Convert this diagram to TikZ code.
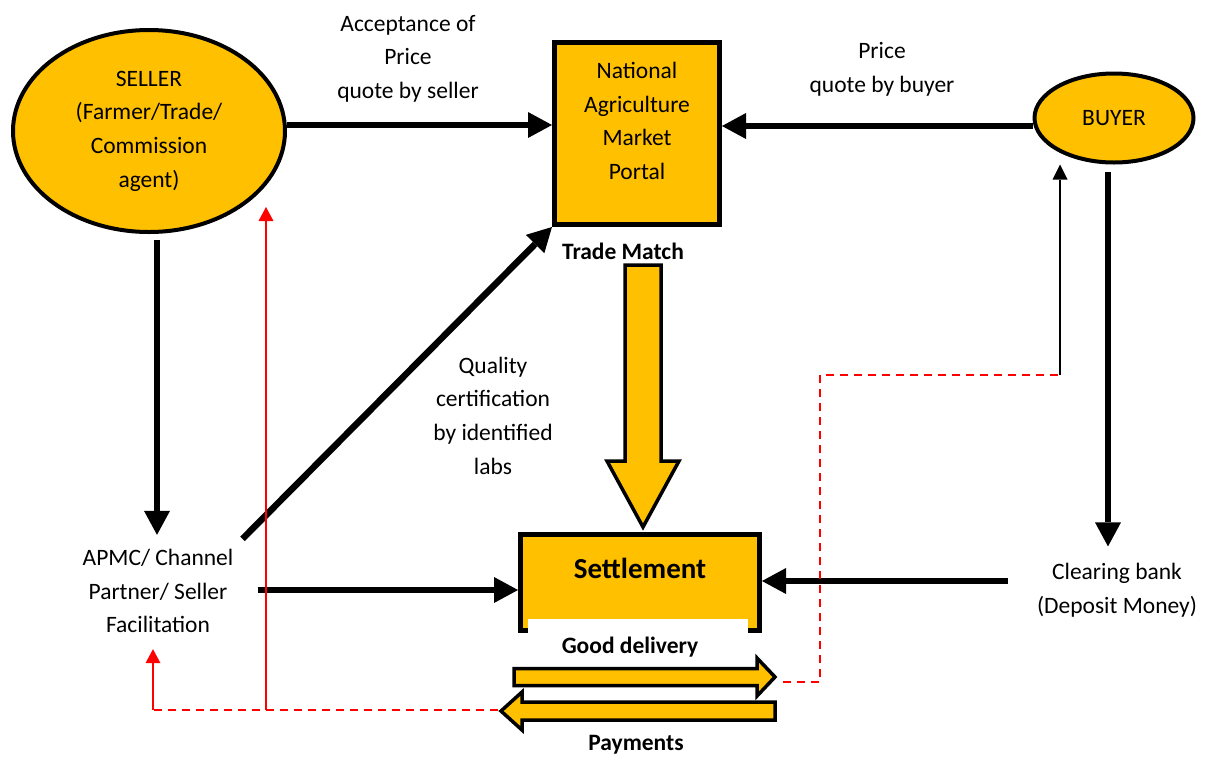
\documentclass[tikz,border=0pt]{standalone}
\usepackage{fontspec}
\setmainfont{Carlito}
\usetikzlibrary{arrows.meta,calc,shapes.geometric}
\definecolor{gold}{HTML}{FFC000}
\definecolor{redline}{HTML}{FF0000}

\begin{document}
\begin{tikzpicture}[x=1pt,y=-1pt,
  every node/.style={font=\fontsize{23.5}{33.7}\selectfont, align=center, inner sep=0pt},
  boldlbl/.style={font=\fontsize{23.5}{28}\selectfont\bfseries},
  party/.style={ellipse, draw=black, fill=gold, line width=4pt},
  goldbox/.style={rectangle, draw=black, fill=gold, line width=5pt},
  flow/.style={draw=black, line width=6.5pt, -{Triangle[length=24pt,width=26pt,line width=0pt]}},
  thinflow/.style={draw=black, line width=1.5pt, -{Triangle[length=15pt,width=15pt,line width=0pt]}},
  redflow/.style={draw=redline, line width=1.8pt, -{Triangle[length=14pt,width=15pt,line width=0pt]}},
  reddash/.style={draw=redline, line width=1.6pt, dash pattern=on 8pt off 6pt},
  blockarrow/.style={draw=black, fill=gold, line width=3.5pt, line join=miter},
]
\useasboundingbox (0,0) rectangle (1208,756);

% parties and the portal
\node[party, minimum width=272pt, minimum height=202pt] (seller) at (149,131)
  {SELLER\\(Farmer/Trade/\\Commission\\agent)};
\node[party, minimum width=159pt, minimum height=89pt] (buyer) at (1114,118) {BUYER};
\node[goldbox, minimum width=165pt, minimum height=182pt] (nam) at (637,133.5) {};
\node (namtxt) at (637,121) {National\\Agriculture\\Market\\Portal};
\node[boldlbl] (trade) at (623,251) {Trade Match};

% free-standing labels
\node (accept) at (408,58.7) {Acceptance of\\Price\\quote by seller};
\node (pquote) at (882,69) {Price\\quote by buyer};
\node (quality) at (493,415.5) {Quality\\certification\\by identified\\labs};
\node (apmc) at (158,591) {APMC/ Channel\\Partner/ Seller\\Facilitation};
\node (bank) at (1117,590.5) {Clearing bank\\(Deposit Money)};

% settlement block
\node[goldbox, minimum width=239pt, minimum height=96pt] (settle) at (640,582.5) {};
\node[font=\fontsize{29}{34}\selectfont\bfseries] (settletxt) at (640,568) {Settlement};
\node[fill=white, minimum width=220pt, minimum height=45pt] (goodbg) at (638,641.5) {};
\node[boldlbl] (good) at (630,647) {Good delivery};
\node[boldlbl] (pay) at (636,745) {Payments};

% block arrows
\draw[blockarrow] (625,265) -- (661,265) -- (661,461) -- (679,461) -- (643,527)
  -- (607,461) -- (625,461) -- cycle;
\draw[blockarrow] (514,668.5) -- (757,668.5) -- (757,658) -- (775,677) -- (757,696)
  -- (757,685.5) -- (514,685.5) -- cycle;
\draw[blockarrow] (775,702) -- (522,702) -- (522,692) -- (501,711) -- (522,730)
  -- (522,720) -- (775,720) -- cycle;

% thick flows
\coordinate (s1) at ($(seller.east)+(0,-6)$);
\draw[flow] (s1) -- (s1 -| nam.west);
\coordinate (b1) at ($(buyer.west)+(0,8)$);
\draw[flow] (b1) -- (b1 -| nam.east);
\coordinate (s2) at ($(seller.south)+(8,6)$);
\coordinate (atop) at ($(apmc.north)+(0,-14)$);
\draw[flow] (s2) -- (s2 |- atop);
\draw[flow] ($(apmc.north east)+(9,-10)$) -- (nam.south west);
\coordinate (a1) at ($(apmc.east)+(24,-1)$);
\draw[flow] (a1) -- (a1 -| settle.west);
\coordinate (k1) at ($(bank.west)+(-29,-9.5)$);
\draw[flow] (k1) -- (k1 -| settle.east);
\coordinate (bk) at ($(buyer.south)+(-6,7)$);
\coordinate (ktop) at ($(bank.north)+(0,-17)$);
\draw[flow] (bk) -- (bk |- ktop);

% feedback lines
\coordinate (gdtip) at (783,682);
\coordinate (bendx) at (820,375);
\coordinate (dashcorner) at (1060,375);
\draw[reddash] (gdtip) -| (bendx) -- (dashcorner);
\draw[thinflow] (dashcorner) -- (dashcorner |- buyer.south);

\coordinate (paytip) at (498,710);
\coordinate (redcorner) at (153,710);
\coordinate (apmcin) at ($(apmc.south)+(0,16)$);
\draw[reddash] (paytip) -- (redcorner);
\draw[redflow] (redcorner) -- (redcorner |- apmcin);
\coordinate (redfoot) at (266,710);
\coordinate (sellerin) at (266,207);
\draw[redflow] (redfoot) -- (sellerin);
\end{tikzpicture}
\end{document}
